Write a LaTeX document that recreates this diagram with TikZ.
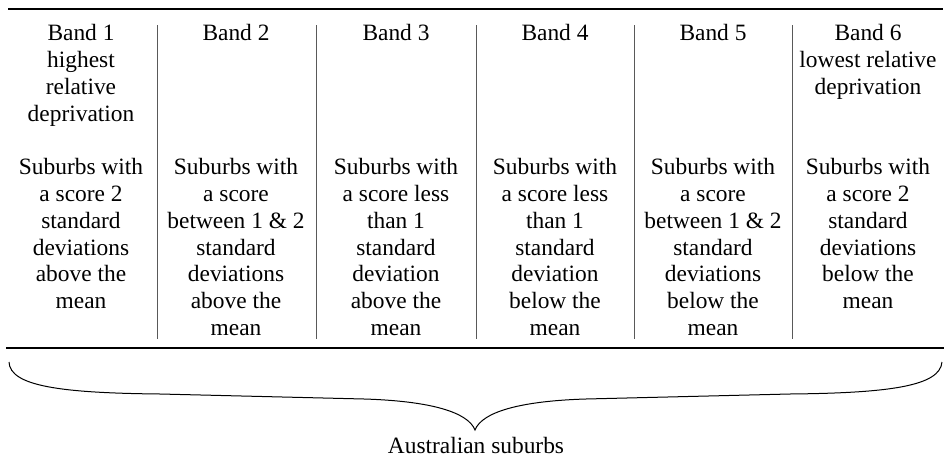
\documentclass[tikz,border=0pt]{standalone}
\usepackage{fontspec}
\setmainfont{Liberation Serif}
\newcommand{\bandfont}{\fontsize{11.7}{13.4}\selectfont}
\begin{document}
\begin{tikzpicture}[x=.5pt,y=-.5pt,line cap=butt,line join=miter,font=\bandfont]
 \tikzset{band/.style={align=center,anchor=north,inner sep=0pt},
 rule/.style={line width=.75pt},
 sep/.style={draw=black!65,line width=.5pt}
 }
 \useasboundingbox (0,0) rectangle (949,461);
 \draw[rule] (8,9)--(943,9);
 \draw[rule] (6,348)--(944,348);
 \foreach \x in {157,316,476,634,792} \draw[sep] (\x,25)--(\x,339);
 % band headings
 \node[band] (h1) at (81,24) {Band 1\\highest\\relative\\deprivation};
 \node[band] (h2) at (236,24) {Band 2};
 \node[band] (h3) at (396,24) {Band 3};
 \node[band] (h4) at (555,24) {Band 4};
 \node[band] (h5) at (713,24) {Band 5};
 \node[band] (h6) at (868,24) {Band 6\\lowest relative\\deprivation};
 % scores
 \node[band] (s1) at (81,158) {Suburbs with\\a score 2\\standard\\deviations\\above the\\mean};
 \node[band] (s2) at (236,158) {Suburbs with\\a score\\between 1 \& 2\\standard\\deviations\\above the\\mean};
 \node[band] (s3) at (396,158) {Suburbs with\\a score less\\than 1\\standard\\deviation\\above the\\mean};
 \node[band] (s4) at (555,158) {Suburbs with\\a score less\\than 1\\standard\\deviation\\below the\\mean};
 \node[band] (s5) at (713,158) {Suburbs with\\a score\\between 1 \& 2\\standard\\deviations\\below the\\mean};
 \node[band] (s6) at (868,158) {Suburbs with\\a score 2\\standard\\deviations\\below the\\mean};
 % brace
 \draw[line width=.5pt] (9,362) .. controls (10,386) and (60,393) .. (160,394)
  -- (364,399) .. controls (430,401) and (468,412) .. (475,430)
  .. controls (482,412) and (520,401) .. (586,399)
  -- (790,394) .. controls (890,393) and (940,386) .. (942,362);
 \node[anchor=base,inner sep=0pt] (lbl) at (476,453) {Australian suburbs};
\end{tikzpicture}
\end{document}
